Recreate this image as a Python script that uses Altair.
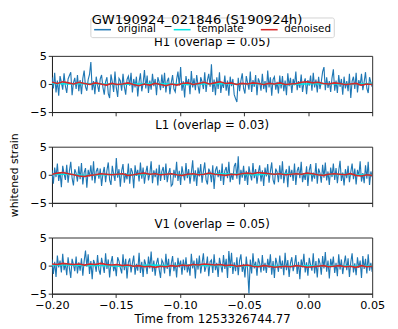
import altair as alt
import numpy as np
import pandas as pd

T0, T1 = -0.20, 0.05

H1_orig = [1.2, -0.8, 2.0, -1.5, 0.6, -2.1, 1.4, 0.3, -1.0, 1.9, -0.4, -1.6, 0.9, 1.5, 2.1, -2.0, 0.2, 1.1, -0.9, 1.6,
           -1.3, 0.7, -1.8, 1.0, 2.4, -0.5, -1.2, 0.8, 1.7, 3.9, -1.1, 0.5, -1.8, 1.3, -0.2, -1.4, 0.9, 1.6, -0.6, -1.9,
           0.4, 1.2, -1.7, -2.5, 1.7, 0.4, -1.4, 2.2, -0.7, -2.3, 1.0, 0.6, -1.2, 1.8, -0.5, -1.9, 0.8, 1.4, -0.3, 2.0,
           -1.5, 0.9, -0.6, 1.3, -2.2, 0.4, 1.9, -1.3, 0.1, 2.5, -0.8, 1.5, -1.6, 0.6, -1.0, 1.8, -0.4, 0.9, -2.0, 1.2,
           0.3, -1.1, 1.7, -0.7, 2.0, -1.5, 0.5, 1.1, -1.8, 0.2, 1.6, -0.9, -1.4, 0.8, 2.2, -0.3, 3.0, -1.2, 0.5, -2.4,
           1.4, -0.2, 0.9, -1.8, 2.3, -0.6, 1.0, -1.1, 1.6, -0.3, -1.7, 1.2, 0.4, -0.9, 2.1, -1.4, 0.7, 1.8, -0.5, 3.5,
           -1.4, 0.8, -2.0, 1.2, -0.9, 2.1, -1.6, 0.3, -0.7, 1.5, -1.2, 0.6, -2.1, 1.3, -0.4, 0.9, -1.9, -2.6, -3.2, 1.1,
           -1.3, 0.6, 1.9, -0.8, -1.7, 1.4, 0.2, -1.0, 2.2, -1.4, 0.7, -0.5, 1.6, -2.0, 1.0, 0.3, -1.2, 1.8, -0.9, 0.5,
           -1.5, 2.4, -0.6, 1.2, -2.1, 0.8, 1.3, -1.0, 0.4, -1.7, 1.5, -0.8, 1.4, -1.3, 0.6, -2.0, 1.9, -0.4, 1.1, -1.6,
           0.9, -0.2, 2.2, -1.1, 0.5, -0.7, 1.7, -1.4, 0.2, 1.0, -1.8, 0.7, -0.3, 1.5, -1.2, 2.0, -0.6, 0.8, -1.5, 1.3,
           -0.9, 0.4, 2.2, 3.0, -1.1, 1.2, -0.7, 0.5, -1.4, 1.1, 2.6, -1.2, 0.6, -1.6, 1.6, -0.5, 0.9, -1.9, 1.3, -0.8,
           0.5, -1.3, 1.8, -2.5, 0.5, 1.3, -0.9, 2.0, -1.5, 0.7, -0.3, 1.8, -1.1, 0.4, 2.1, -0.8, -1.6, 1.2, 0.3, -0.5]

L1_orig = [0.8, -1.6, 1.3, -0.4, 2.0, -1.1, 0.5, -2.2, 1.6, 0.2, -0.9, 1.8, -1.4, 0.7, 2.3, -0.6, -1.9, 1.0, 0.3, -1.2,
           1.5, -0.8, 2.1, -1.7, 0.4, 1.2, -2.3, 0.9, -0.3, 1.7, -1.0, 2.4, -1.5, 0.6, 1.2, -0.7, 1.1, -2.0, 0.2, 1.4,
           -1.3, 0.8, 2.2, -0.9, -1.8, 1.6, 0.1, -1.1, 3.0, -0.5, 1.0, -2.1, 0.7, 1.9, -1.4, 0.3, -0.8, 2.0, -1.6, 1.2,
           0.5, -2.4, 1.7, -0.2, 0.9, -1.2, 2.2, -0.7, 1.3, -1.6, 0.4, 1.6, -1.0, 0.2, 2.4, -1.5, 0.8, -0.4, 1.1, -1.9,
           1.8, -1.1, 0.6, 1.4, -0.9, 2.0, -1.3, 0.3, 1.2, -2.0, -1.7, 0.9, -0.5, 2.3, -1.1, 0.7, -1.8, 1.5, 0.1, -1.0,
           2.1, -0.6, 1.0, -1.6, 0.4, 2.6, -1.2, 0.8, -2.0, 1.3, -0.3, 1.9, -1.4, 0.6, 2.2, -0.9, -1.7, 1.1, 0.5, -1.3,
           1.7, -2.5, 0.8, 1.5, -0.4, 0.9, -1.1, 2.0, -1.8, 0.7, 1.4, -0.6, 2.3, -1.3, 0.2, -0.9, 1.5, 2.1, -0.7, 3.3,
           -1.7, 0.9, -0.5, 1.6, -1.1, 0.7, -1.8, 1.5, 0.1, -1.0, 2.1, -0.6, 1.0, -1.6, 0.4, 1.7, -1.2, 0.8, -2.0, 1.3,
           -0.3, 1.9, -1.4, 0.6, 2.2, -0.9, -1.7, 1.1, 0.5, -1.3, 1.7, -0.8, 2.4, -1.5, 0.3, 1.0, -2.2, 1.6, -0.4, 0.9,
           -1.1, 2.0, -1.8, 0.7, 1.4, -0.6, 2.3, -1.3, 0.2, -0.9, 1.5, -2.0, 0.8, 1.9, -1.2, 0.4, -0.7, 2.1, -1.6, 1.1,
           0.3, -1.4, 1.8, -0.5, 2.2, -1.0, 0.6, -1.8, 1.3, -0.4, 2.0, -0.9, 1.2, -1.5, 0.7, 2.5, -1.1, 0.4, -1.9, 1.0,
           -0.6, 1.6, -1.3, 0.5, 2.0, -0.8, 1.1, -1.7, 0.9, -0.2, 2.4, -1.2, 0.3, -1.5, 1.7, -0.7, 2.3, -1.8, 0.6, -0.4]

V1_orig = [1.1, -1.5, 0.7, -2.0, 1.8, -0.3, 0.9, -1.2, 2.1, -0.8, 0.4, -1.7, 1.5, -0.5, -2.2, 1.2, 0.2, -1.0, 1.6, -1.4,
           0.6, -0.9, 1.3, -1.8, 0.8, 2.7, -0.2, 2.0, -1.5, 0.8, -2.4, 1.0, 0.3, -1.1, 1.9, -0.7, -1.6, 1.4, 0.1, -1.3,
           2.2, -0.6, 1.1, -2.1, 0.5, 1.7, -1.0, 0.2, -1.9, 1.5, 0.8, -0.4, -1.4, 2.0, -0.8, 1.2, -2.3, 0.6, 1.3, -1.2,
           0.4, 1.8, -1.6, 0.3, -0.9, 2.3, -1.3, 0.7, -2.0, 1.1, 0.2, -1.5, 1.6, -0.5, 2.5, -1.1, 0.9, -1.8, 0.4, 1.4,
           -0.7, -2.2, 1.0, 0.5, -1.4, 2.1, -0.6, 1.2, -1.9, 0.3, 1.7, -1.0, 0.6, -2.1, 1.4, -0.3, 0.9, -1.6, 1.1, -0.8,
           1.5, -1.2, 0.2, -1.8, 2.1, -0.5, 0.9, -2.3, 1.3, -0.7, 1.8, -1.4, 0.4, 2.2, -1.1, -0.2, 1.6, -1.9, 0.7, 1.0,
           -1.3, 2.0, -0.8, 0.5, -2.0, 1.4, 0.1, -1.2, 1.9, -0.6, 1.2, -2.2, 2.6, -0.4, 2.3, -1.5, 0.6, -1.0, 1.5, -1.7,
           0.9, 2.0, -1.1, 0.3, -2.1, 1.6, -0.7, -5.0, 1.1, -1.4, 2.2, -0.5, 0.7, -1.8, 1.3, 0.4, -1.2, 1.9, -0.9, 0.5,
           -1.3, 1.2, -0.4, 2.0, -1.6, 0.8, -2.2, 1.4, 0.3, -1.1, 1.8, -0.6, 0.9, -1.7, 2.3, -0.8, 1.0, -2.0, 0.5, 1.5,
           -1.0, 0.2, 1.9, -1.5, 0.7, -2.4, 1.1, -0.3, 2.1, -1.2, 0.6, -1.8, 1.4, 0.1, -0.9, 2.2, -1.4, 0.8, -2.1, 1.3,
           0.4, -1.6, 1.7, -0.5, 2.4, -1.1, 0.9, -2.3, 1.2, -0.2, 1.6, -1.3, 0.5, -1.9, 2.0, -0.7, 1.1, -1.5, 0.3, 1.8,
           -0.8, 1.3, -2.0, 0.6, 2.2, -1.2, 0.4, -1.7, 1.5, -0.4, 0.9, -2.2, 1.7, -0.6, 1.2, -1.4, 2.0, -0.9, 0.5, -1.1]

H1_den = [0.3, 0.1, 0.4, 0.2, 0.0, 0.3, 0.1, -0.1, 0.2, 0.0, -0.2, 0.1, -0.1, 0.0, 0.2, -0.1, -0.3, 0.0, -0.2, 0.1,
          -0.1, -0.3, 0.0, -0.2, 0.1, 0.2, -0.1, 0.1, 0.3, 0.0, 0.2, 0.4, 0.1, 0.2, -0.1, 0.1, 0.0, 0.2, 0.1, -0.1,
          0.1, 0.0, 0.2, -0.1, 0.0, 0.1, 0.3, 0.4, 0.2, 0.3, 0.1, 0.0, 0.2, 0.1, -0.1, 0.0, 0.1, -0.2, 0.0, -0.1]
L1_den = [0.1, 0.3, 0.4, 0.2, 0.0, -0.2, -0.3, -0.1, 0.0, 0.2, 0.1, 0.0, 0.1, 0.2, -0.1, 0.0, 0.2, 0.3, 0.1, 0.2,
          0.0, 0.1, 0.2, 0.0, -0.1, 0.1, 0.2, 0.0, 0.1, 0.3, 0.1, 0.0, -0.1, 0.1, 0.0, 0.2, 0.3, 0.2, 0.4, 0.3,
          0.2, 0.1, 0.2, 0.0, 0.1, 0.2, 0.1, 0.3, 0.2, 0.0, -0.1, 0.1, 0.2, 0.1, 0.0, 0.2, -0.1, -0.2, 0.0, -0.1]
V1_den = [0.3, 0.2, 0.4, 0.3, 0.2, 0.3, 0.1, 0.3, 0.2, 0.4, 0.2, 0.1, 0.2, 0.0, 0.1, -0.1, 0.0, -0.2, -0.1, -0.3,
          -0.1, -0.2, 0.0, -0.1, 0.1, 0.0, 0.2, 0.1, 0.3, 0.2, 0.1, 0.2, 0.0, 0.1, -0.1, 0.0, 0.1, -0.1, -0.2, 0.0,
          -0.1, -0.3, -0.2, -0.1, -0.2, 0.0, -0.1, -0.3, -0.2, -0.1, 0.0, -0.2, -0.1, 0.0, -0.2, -0.1, -0.3, 0.0, -0.2, -0.1]

H1_tmpl = [0.1, 0.0, 0.1, 0.0, -0.1, 0.0, 0.1, 0.0, -0.1, 0.0, 0.1, 0.0, 0.1, 0.0, -0.1, 0.0, 0.1, 0.0, 0.0, 0.1]
L1_tmpl = [0.1, 0.1, -0.1, 0.0, 0.1, 0.0, 0.1, 0.1, 0.0, 0.1, 0.2, 0.1, 0.0, 0.1, 0.2, 0.1, 0.0, 0.1, 0.0, 0.0]
V1_tmpl = [0.1, 0.1, 0.0, 0.0, -0.1, 0.0, 0.1, 0.0, 0.1, 0.0, 0.0, -0.1, 0.0, -0.1, -0.1, 0.0, -0.1, 0.0, -0.1, 0.0]

detectors = ["H1", "L1", "V1"]
overlaps = ["0.05", "0.03", "0.05"]
series_names = ["original", "template", "denoised"]
series_colors = ["#1f77b4", "#00e5e5", "#d62728"]
x_ticks = [-0.20, -0.15, -0.10, -0.05, 0.00, 0.05]
y_ticks = [-5, 0, 5]

rows = []
for det, orig, tmpl, den in [("H1", H1_orig, H1_tmpl, H1_den),
                             ("L1", L1_orig, L1_tmpl, L1_den),
                             ("V1", V1_orig, V1_tmpl, V1_den)]:
    for name, vals in [("original", orig), ("template", tmpl), ("denoised", den)]:
        ts = np.linspace(T0, T1, len(vals))
        for i, (t, v) in enumerate(zip(ts, vals)):
            rows.append({"det": det, "series": name, "t": float(t), "v": v, "i": i})
df = pd.DataFrame(rows)

FONT = "DejaVu Sans"

color = alt.Color("series:N", scale=alt.Scale(domain=series_names, range=series_colors),
                  legend=alt.Legend(title=None, orient="none", legendX=41, legendY=-41,
                                    direction="horizontal",
                                    symbolType="stroke", symbolStrokeWidth=1.6, symbolSize=324,
                                    labelFontSize=11, labelFont=FONT, labelColor="black",
                                    labelOffset=6,
                                    strokeColor="#d0d0d0", fillColor="white", padding=3,
                                    cornerRadius=2, columnPadding=14))

panels = []
for k, (det, ov) in enumerate(zip(detectors, overlaps)):
    last = k == 2
    xaxis_kw = dict(values=x_ticks, format=".2f", labels=last, grid=False, tickSize=4,
                    labelFontSize=12, titleFontSize=12.5, labelFlush=False, titlePadding=3,
                    labelPadding=3)
    if last:
        xaxis_kw["title"] = "Time from 1253326744.77"
    else:
        xaxis_kw["title"] = None
    yaxis_kw = dict(values=y_ticks, grid=False, tickSize=4, labelFontSize=12, labelPadding=2)
    if k == 1:
        yaxis_kw.update(title="whitened strain", titleFontSize=11.5, titlePadding=11)
    else:
        yaxis_kw["title"] = None
    xaxis = alt.Axis(**xaxis_kw)
    yaxis = alt.Axis(**yaxis_kw)
    base = alt.Chart(df[df.det == det])
    layers = []
    for name, w in [("original", 1.2), ("template", 1.5), ("denoised", 1.7)]:
        layers.append(
            base.transform_filter(alt.datum.series == name)
            .mark_line(strokeWidth=w, clip=True)
            .encode(x=alt.X("t:Q", scale=alt.Scale(domain=[T0, T1], nice=False), axis=xaxis),
                    y=alt.Y("v:Q", scale=alt.Scale(domain=[-5, 5], nice=False), axis=yaxis),
                    color=color, order="i:Q")
        )
    panels.append(alt.layer(*layers).properties(
        width=342, height=60,
        title=alt.TitleParams(f"{det} (overlap = {ov})", fontSize=12.5, fontWeight="normal",
                              font=FONT, offset=2, color="black")))

chart = alt.vconcat(*panels, spacing=37, bounds="flush").properties(
    title=alt.TitleParams("GW190924_021846 (S190924h)", fontSize=14, fontWeight="normal",
                          font=FONT, anchor="middle", offset=-10, color="black"),
    padding={"left": 0, "top": -6, "right": 5, "bottom": 0}
).configure_view(stroke="#222", strokeWidth=1).configure_axis(
    domainColor="#222", tickColor="#222", labelColor="black", titleColor="black",
    labelFont=FONT, titleFont=FONT, titleFontWeight="normal"
)

chart.save("out.html", embed_options={"renderer": "svg", "actions": False})
